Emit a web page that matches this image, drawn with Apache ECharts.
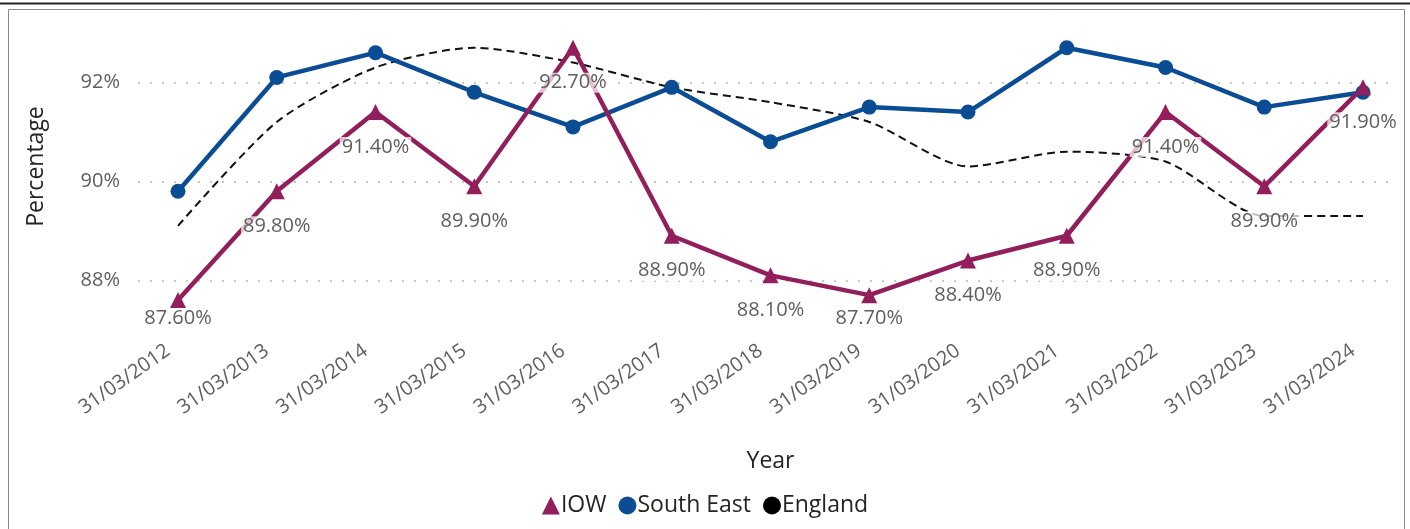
<!DOCTYPE html>
<html>
<head>
<meta charset="utf-8">
<style>
  html, body { margin: 0; padding: 0; background: #fff; }
  #chart { width: 1410px; height: 529px; }
</style>
<script src="https://cdn.jsdelivr.net/npm/echarts@6/dist/echarts.min.js"></script>
</head>
<body>
<div id="chart"></div>
<script>
var years = ['31/03/2012', '31/03/2013', '31/03/2014', '31/03/2015', '31/03/2016', '31/03/2017',
    '31/03/2018', '31/03/2019', '31/03/2020', '31/03/2021', '31/03/2022', '31/03/2023', '31/03/2024'];
var iow = [87.6, 89.8, 91.4, 89.9, 92.7, 88.9, 88.1, 87.7, 88.4, 88.9, 91.4, 89.9, 91.9];
var southEast = [89.8, 92.1, 92.6, 91.8, 91.1, 91.9, 90.8, 91.5, 91.4, 92.7, 92.3, 91.5, 91.8];
var england = [89.1, 91.2, 92.3, 92.7, 92.4, 91.9, 91.6, 91.2, 90.3, 90.6, 90.4, 89.3, 89.3];
var yTicks = [88, 90, 92];

var textFont = '"Open Sans", "Noto Sans", sans-serif';
var labelGrey = '#605E5C';
var titleDark = '#252423';
var yMin = 87.4, yMax = 93.2;

var chart = echarts.init(document.getElementById('chart'));

var option = {
    backgroundColor: '#fff',
    animation: false,
    textStyle: { fontFamily: textFont },
    // frame round the visual
    graphic: [{
        type: 'line',
        shape: { x1: 0, y1: 3.5, x2: 1410, y2: 3.5 },
        style: { stroke: '#222', lineWidth: 2 },
        silent: true
    }, {
        type: 'rect',
        shape: { x: 8.5, y: 9.5, width: 1396, height: 530 },
        style: { fill: 'none', stroke: '#8a8a8a', lineWidth: 1 },
        silent: true
    }],
    // grid 0 holds the lines, grid 1 is the wider gridline / y label area
    grid: [{
        left: 178,
        right: 47,
        top: 23,
        bottom: 219
    }, {
        left: 138,
        right: 13,
        top: 23,
        bottom: 219
    }],
    legend: {
        top: 489,
        left: 'center',
        itemGap: 12,
        itemWidth: 18,
        itemHeight: 18,
        textStyle: { color: titleDark, fontSize: 23, fontFamily: textFont, padding: [0, 0, 0, -4] },
        data: [
            { name: 'IOW', icon: 'triangle' },
            { name: 'South East', icon: 'circle' },
            { name: 'England', icon: 'circle' }
        ]
    },
    xAxis: [{
        type: 'category',
        gridIndex: 0,
        data: years,
        boundaryGap: false,
        name: 'Year',
        nameLocation: 'middle',
        nameGap: 140,
        nameTextStyle: { color: titleDark, fontSize: 23, fontFamily: textFont },
        axisLine: { show: false },
        axisTick: { show: false },
        axisLabel: {
            rotate: 35,
            margin: 32,
            padding: [0, 12, 0, 0],
            color: labelGrey,
            fontSize: 20,
            fontFamily: textFont
        }
    }, {
        type: 'value',
        gridIndex: 1,
        min: 0,
        max: 1,
        show: false
    }],
    yAxis: [{
        type: 'value',
        gridIndex: 0,
        min: yMin,
        max: yMax,
        show: false,
        splitLine: { show: false }
    }, {
        type: 'value',
        gridIndex: 1,
        min: yMin,
        max: yMax,
        name: 'Percentage',
        nameLocation: 'middle',
        nameGap: 90,
        nameTextStyle: { color: titleDark, fontSize: 23, fontFamily: textFont },
        axisLine: { show: false },
        axisTick: { show: false, customValues: yTicks },
        axisLabel: {
            customValues: yTicks,
            margin: 18,
            color: labelGrey,
            fontSize: 20,
            fontFamily: textFont,
            formatter: function(v) { return v + '%'; }
        },
        splitLine: {
            lineStyle: { color: '#c8c8c8', type: [2, 10], width: 2 }
        }
    }],
    series: [{
        name: 'England',
        type: 'line',
        data: england,
        smooth: 0.25,
        showSymbol: false,
        symbol: 'circle',
        color: '#000',
        lineStyle: { color: '#111', width: 2, type: [8, 5] }
    }, {
        name: 'South East',
        type: 'line',
        data: southEast,
        symbol: 'circle',
        symbolSize: 15,
        color: '#0A4D94',
        lineStyle: { width: 4.5 }
    }, {
        name: 'IOW',
        type: 'line',
        data: iow,
        symbol: 'triangle',
        symbolSize: 16,
        color: '#921E5C',
        lineStyle: { width: 4.5 },
        label: {
            show: true,
            position: 'bottom',
            distance: 17,
            color: labelGrey,
            fontSize: 20,
            fontFamily: textFont,
            backgroundColor: 'rgba(255,255,255,0.72)',
            padding: [0, 2],
            formatter: function(p) { return p.value.toFixed(2) + '%'; }
        },
        // keep labels above the x axis labels
        labelLayout: function(params) {
            var r = params.labelRect;
            var limit = 328;
            if (r.y + r.height > limit) {
                return { dy: limit - r.y - r.height };
            }
        }
    }]
};

chart.setOption(option);
</script>
</body>
</html>
